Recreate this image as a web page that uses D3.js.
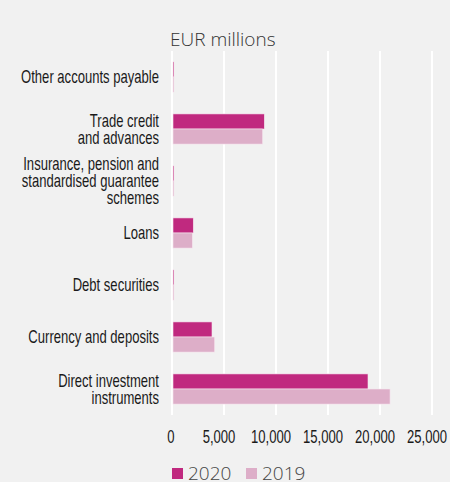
<!DOCTYPE html>
<html>
<head>
<meta charset="utf-8">
<script src="https://cdn.jsdelivr.net/npm/d3@7"></script>
<style>
  html, body { margin: 0; padding: 0; background: #f1f1f1; }
  svg { display: block; }
</style>
</head>
<body>
<div id="chart"></div>
<script>
// Category labels (top to bottom), split into lines
var categories = [
    ["Other accounts payable"],
    ["Trade credit", "and advances"],
    ["Insurance, pension and", "standardised guarantee", "schemes"],
    ["Loans"],
    ["Debt securities"],
    ["Currency and deposits"],
    ["Direct investment", "instruments"]
];
var values2020 = [40, 8780, 40, 1950, 50, 3750, 18750];
var values2019 = [60, 8620, 60, 1860, 20, 4010, 20870];
var seriesNames = ["2020", "2019"];
var xTicks = [0, 5000, 10000, 15000, 20000, 25000];

(function () {
    "use strict";

    var width = 450, height = 482;
    var colors = ["#c0297f", "#ddaec8"];
    var labelFont = "'Liberation Sans', Arial, sans-serif";

    var svg = d3.select("#chart").append("svg")
        .attr("width", width)
        .attr("height", height);

    svg.append("rect").attr("width", width).attr("height", height).attr("fill", "#f1f1f1");

    // measure a string to get a horizontal squeeze factor (condensed look)
    function squeeze(str, size, target) {
        var t = svg.append("text")
            .attr("font-family", labelFont)
            .attr("font-size", size + "px")
            .text(str);
        var w = t.node().getComputedTextLength();
        t.remove();
        return target / w;
    }

    var keys = categories.map(function (c, i) { return i; });

    var x = d3.scaleLinear().domain([0, 25000]).range([172, 432]);
    var y = d3.scaleBand().domain(keys).range([51, 415])
        .paddingInner(0.42).paddingOuter(0.21);
    var ySub = d3.scaleBand().domain([0, 1]).range([0, y.bandwidth()]);

    // gridlines
    svg.append("g").selectAll("line")
        .data(xTicks)
        .join("line")
        .attr("x1", function (d) { return x(d); })
        .attr("x2", function (d) { return x(d); })
        .attr("y1", 51).attr("y2", 415)
        .attr("stroke", "#ffffff")
        .attr("stroke-width", 2);

    // bars
    var groups = svg.append("g").selectAll("g")
        .data(keys)
        .join("g")
        .attr("transform", function (d) { return "translate(0," + y(d) + ")"; });

    groups.selectAll("rect")
        .data(function (d) { return [values2020[d], values2019[d]]; })
        .join("rect")
        .attr("x", x(0) + 1)
        .attr("y", function (d, i) { return ySub(i); })
        .attr("height", ySub.bandwidth())
        .attr("width", function (d) { return Math.max(1, x(d) - x(0)); })
        .attr("fill", function (d, i) { return colors[i]; })
        .attr("stroke", "#f6e6ef")
        .attr("stroke-width", 0.6);

    // category labels
    var labelSize = 18;
    var sx = squeeze("Other accounts payable", labelSize, 138);
    var lineH = 17;
    svg.append("g").selectAll("g")
        .data(keys)
        .join("g")
        .attr("transform", "translate(159,0) scale(" + sx + ",1)")
        .append("text")
        .attr("text-anchor", "end")
        .attr("font-family", labelFont)
        .attr("font-size", labelSize + "px")
        .attr("fill", "#1a1a1a")
        .each(function (d) {
            var lines = categories[d];
            var cy = y(d) + y.bandwidth() / 2;
            var y0 = cy - (lines.length - 1) * lineH / 2;
            d3.select(this).selectAll("tspan")
                .data(lines)
                .join("tspan")
                .attr("x", 0)
                .attr("y", function (t, i) { return y0 + i * lineH; })
                .attr("dy", "0.35em")
                .text(function (t) { return t; });
        });

    // x axis tick labels
    var fmt = d3.format(",");
    var tickSize = 18;
    var tx = squeeze("25,000", tickSize, 40);
    svg.append("g").selectAll("g")
        .data(xTicks)
        .join("g")
        .attr("transform", function (d) {
            return "translate(" + (x(d) - (d === 0 ? 1 : 5)) + ",443) scale(" + tx + ",1)";
        })
        .append("text")
        .attr("text-anchor", "middle")
        .attr("font-family", labelFont)
        .attr("font-size", tickSize + "px")
        .attr("fill", "#1a1a1a")
        .text(function (d) { return fmt(d); });

    // unit title
    svg.append("text")
        .attr("x", 170).attr("y", 46)
        .attr("font-family", "'Open Sans', sans-serif")
        .attr("font-size", "19px")
        .attr("font-weight", 300)
        .attr("fill", "#333")
        .text("EUR millions");

    // legend
    var legend = svg.append("g").selectAll("g")
        .data(seriesNames)
        .join("g")
        .attr("transform", function (d, i) { return "translate(" + (172 + i * 74) + ",468)"; });
    legend.append("rect")
        .attr("width", 11).attr("height", 11)
        .attr("fill", function (d, i) { return colors[i]; });
    legend.append("text")
        .attr("x", 16).attr("y", 11.5)
        .attr("font-family", "'Open Sans', sans-serif")
        .attr("font-size", "19px")
        .attr("font-weight", 300)
        .attr("fill", "#444")
        .text(function (d) { return d; });
})();
</script>
</body>
</html>
